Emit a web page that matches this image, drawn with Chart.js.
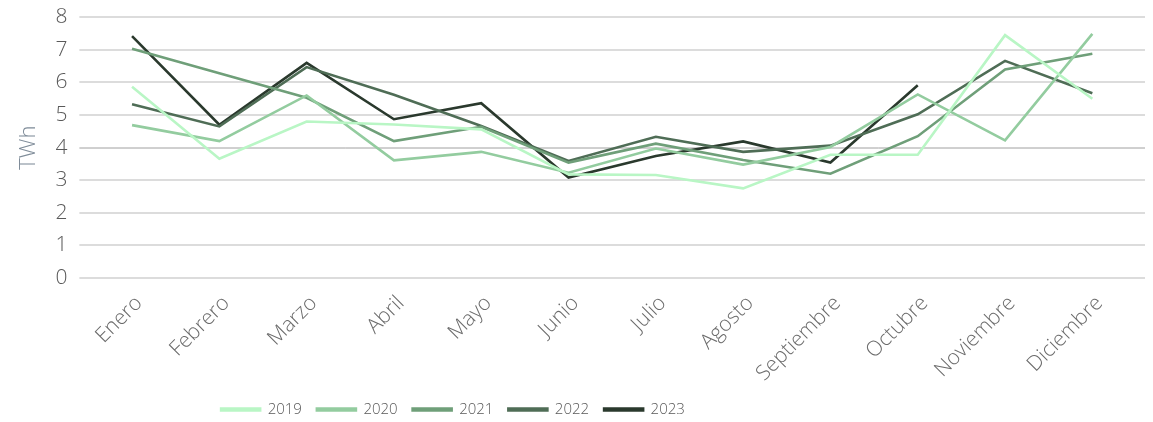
<!DOCTYPE html>
<html>
<head>
<meta charset="utf-8">
<script src="https://cdn.jsdelivr.net/npm/chart.js@4"></script>
<style>
  html, body { margin: 0; padding: 0; background: #fff; }
  #wrap { width: 1153px; height: 422px; }
</style>
</head>
<body>
<div id="wrap"><canvas id="chart"></canvas></div>
<script>
// Months on the x axis
const months = ['Enero', 'Febrero', 'Marzo', 'Abril', 'Mayo', 'Junio', 'Julio',
    'Agosto', 'Septiembre', 'Octubre', 'Noviembre', 'Diciembre'];

// Series values (TWh)
const v2019 = [5.87, 3.66, 4.80, 4.71, 4.56, 3.18, 3.16, 2.75, 3.78, 3.78, 7.45, 5.50];
const v2020 = [4.69, 4.20, 5.60, 3.61, 3.87, 3.23, 3.97, 3.48, 4.02, 5.63, 4.22, 7.49];
const v2021 = [7.03, 6.28, 5.53, 4.20, 4.64, 3.54, 4.12, 3.62, 3.20, 4.35, 6.40, 6.88];
const v2022 = [5.33, 4.65, 6.47, 5.62, 4.66, 3.59, 4.33, 3.87, 4.06, 5.02, 6.66, 5.67];
const v2023 = [7.42, 4.70, 6.60, 4.87, 5.36, 3.08, 3.74, 4.19, 3.54, 5.91];

const years = ['2019', '2020', '2021', '2022', '2023'];
const colors = ['#b9f6c5', '#93cc9f', '#6f9f79', '#4f6d56', '#2a392d'];
const yTicks = [0, 1, 2, 3, 4, 5, 6, 7, 8];

const FONT = "'Open Sans'";

// Horizontal gridlines, drawn a bit wider than the plot area like the original
const gridPlugin = {
    id: 'wideGrid',
    beforeDatasetsDraw(chart) {
        const { ctx, chartArea, scales } = chart;
        ctx.save();
        yTicks.forEach(t => {
            const y = Math.round(scales.y.getPixelForValue(t));
            ctx.lineWidth = t === 4 ? 1 : 1.5;
            ctx.strokeStyle = t === 4 ? '#a0a0a0' : '#d0d0d0';
            ctx.beginPath();
            ctx.moveTo(chartArea.left - 9, y);
            ctx.lineTo(chartArea.right + 9, y);
            ctx.stroke();
        });
        ctx.restore();
    }
};

// The legend in the original sits left of centre
const legendShift = {
    id: 'legendShift',
    afterLayout(chart) {
        chart.legend.left -= 123;
        chart.legend.right -= 123;
    }
};

const series = [v2019, v2020, v2021, v2022, v2023];

new Chart(document.getElementById('chart'), {
    type: 'line',
    data: {
        labels: months,
        datasets: years.map((y, i) => ({
            label: y,
            data: series[i],
            borderColor: colors[i],
            backgroundColor: colors[i],
            borderWidth: 2.6,
            pointRadius: 0,
            tension: 0
        }))
    },
    options: {
        responsive: true,
        maintainAspectRatio: false,
        animation: false,
        layout: { padding: { top: -2, right: 17, left: 16, bottom: 0 } },
        plugins: {
            legend: {
                position: 'bottom',
                maxHeight: 35,
                labels: {
                    boxWidth: 39,
                    boxHeight: 2,
                    padding: 15,
                    color: '#595959',
                    font: { family: FONT, size: 15, weight: 300 }
                }
            },
            tooltip: { enabled: false }
        },
        scales: {
            x: {
                offset: true,
                grid: { display: false },
                border: { display: false },
                afterFit(scale) {
                    scale.height = 109;
                },
                ticks: {
                    minRotation: 45,
                    maxRotation: 45,
                    padding: 5,
                    labelOffset: 7,
                    color: '#6b6b6b',
                    font: { family: FONT, size: 21, weight: 300 }
                }
            },
            y: {
                min: 0,
                max: 8,
                grid: { display: false },
                border: { display: false },
                afterBuildTicks(scale) {
                    scale.ticks = yTicks.map(v => ({ value: v }));
                },
                ticks: {
                    padding: 13,
                    color: '#595959',
                    font: { family: FONT, size: 21, weight: 300, lineHeight: 0.4 }
                },
                title: {
                    display: true,
                    text: 'TWh',
                    color: '#7f8c99',
                    font: { family: FONT, size: 22, weight: 300 },
                    padding: 0
                }
            }
        }
    },
    plugins: [gridPlugin, legendShift]
});
</script>
</body>
</html>
